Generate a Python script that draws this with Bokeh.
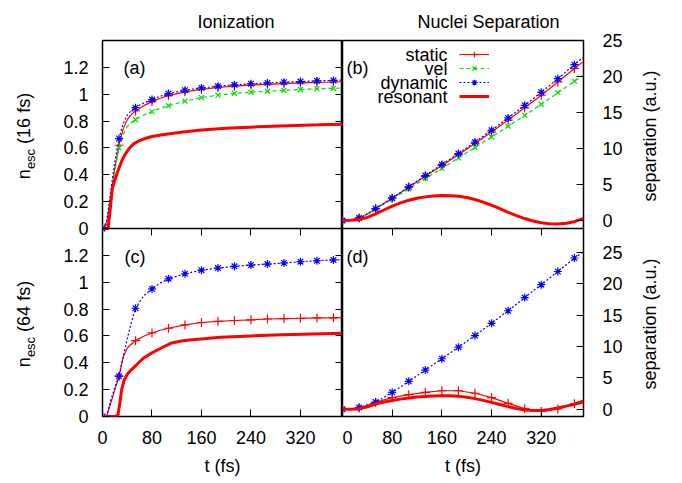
import numpy as np
from bokeh.plotting import figure
from bokeh.models import (ColumnDataSource, FixedTicker, Label, Legend, LegendItem,
                          LinearAxis, Range1d, CustomJSTickFormatter, Div, Title, Span)
from bokeh.layouts import row
from bokeh.embed import file_html
from bokeh.resources import INLINE

FONT = "Liberation Sans"
FS = "18px"

# ---------------- data ----------------
T = [0, 6.67, 13.33, 20, 26.67, 33.33, 40, 46.67, 53.33, 66.67, 80, 93.33, 106.67,
     133.33, 160, 186.67, 213.33, 240, 266.67, 293.33, 320, 346.67, 373.33, 388]
MARK_STEP = 80 / 3

a_static = [0, 0.03, 0.24, 0.45, 0.62, 0.74, 0.81, 0.85, 0.875, 0.915, 0.945, 0.97, 0.99,
            1.018, 1.036, 1.05, 1.06, 1.068, 1.074, 1.079, 1.084, 1.088, 1.091, 1.093]
a_vel = [0, 0.02, 0.22, 0.43, 0.60, 0.70, 0.76, 0.79, 0.81, 0.845, 0.87, 0.895, 0.914,
         0.948, 0.975, 0.993, 1.006, 1.015, 1.022, 1.029, 1.035, 1.04, 1.044, 1.046]
a_dynamic = [0, 0.05, 0.28, 0.50, 0.67, 0.78, 0.845, 0.88, 0.90, 0.935, 0.96, 0.985, 1.005,
             1.03, 1.047, 1.06, 1.07, 1.078, 1.084, 1.089, 1.094, 1.099, 1.103, 1.105]
TR_a = [0, 9, 12, 16, 20, 25, 30, 35, 42, 50, 60, 70, 80, 100, 130, 160, 200, 250, 300, 350, 388]
a_res = [0, 0, 0.12, 0.30, 0.36, 0.43, 0.49, 0.54, 0.59, 0.63, 0.655, 0.672, 0.685, 0.70,
         0.718, 0.733, 0.746, 0.757, 0.766, 0.772, 0.777]

c_static = [0, 0.0, 0.1, 0.2, 0.30, 0.44, 0.51, 0.54, 0.565, 0.598, 0.622, 0.642, 0.657,
            0.682, 0.70, 0.709, 0.715, 0.72, 0.726, 0.729, 0.731, 0.734, 0.735, 0.736]
c_dynamic = [0, 0.0, 0.12, 0.22, 0.30, 0.44, 0.58, 0.70, 0.806, 0.90, 0.95, 0.995, 1.025,
             1.063, 1.09, 1.105, 1.118, 1.128, 1.135, 1.143, 1.153, 1.16, 1.166, 1.168]
TR_c = [0, 20, 25, 28, 31, 35, 40, 46, 55, 65, 80, 95, 110, 125, 140, 160, 190, 240, 290, 340, 388]
c_res = [0, 0, 0.01, 0.1, 0.2, 0.27, 0.315, 0.345, 0.385, 0.43, 0.475, 0.51, 0.545, 0.56,
         0.57, 0.578, 0.59, 0.6, 0.608, 0.615, 0.62]

b_static = [0, 0.02, 0.08, 0.2, 0.36, 0.6, 0.92, 1.27, 1.63, 2.36, 3.1, 3.85, 4.62,
            6.15, 7.65, 9.15, 10.7, 12.3, 13.95, 15.65, 17.4, 19.25, 21.1, 22.1]
b_vel = [0, 0.02, 0.08, 0.2, 0.36, 0.6, 0.9, 1.25, 1.6, 2.3, 3.0, 3.7, 4.4,
         5.85, 7.25, 8.7, 10.15, 11.6, 13.1, 14.6, 16.15, 17.75, 19.35, 20.2]
b_dynamic = [0, 0.02, 0.08, 0.2, 0.37, 0.62, 0.95, 1.3, 1.67, 2.4, 3.15, 3.9, 4.68,
             6.25, 7.8, 9.3, 10.9, 12.55, 14.25, 16.0, 17.8, 19.7, 21.65, 22.7]
TR13 = [0, 13.33, 26.67, 40, 53.33, 66.67, 80, 93.33, 106.67, 120, 133.33, 146.67, 160,
        173.33, 186.67, 200, 213.33, 226.67, 240, 253.33, 266.67, 280, 293.33, 306.67,
        320, 333.33, 346.67, 360, 373.33, 388]
b_res = [0, 0.03, 0.14, 0.45, 0.93, 1.47, 2.0, 2.45, 2.82, 3.1, 3.29, 3.42, 3.47, 3.46,
         3.38, 3.2, 2.92, 2.56, 2.13, 1.65, 1.15, 0.68, 0.28, -0.05, -0.3, -0.43, -0.46,
         -0.38, -0.15, 0.3]

d_static = [0, 0.0, 0.03, 0.1, 0.2, 0.4, 0.62, 0.85, 1.1, 1.5, 1.85, 2.1, 2.33,
            2.7, 2.95, 2.95, 2.55, 1.85, 0.95, 0.1, -0.35, 0.05, 0.9, 1.45]
d_dynamic = [0, 0.01, 0.05, 0.15, 0.3, 0.5, 0.72, 0.92, 1.15, 1.9, 2.7, 3.55, 4.45,
             6.25, 8.05, 9.9, 11.75, 13.7, 15.7, 17.8, 19.85, 21.95, 24.1, 25.1]
d_res = [0, 0.02, 0.1, 0.4, 0.84, 1.15, 1.4, 1.62, 1.8, 1.95, 2.05, 2.12, 2.15, 2.14,
         2.07, 1.92, 1.7, 1.42, 1.1, 0.76, 0.42, 0.12, -0.1, -0.2, -0.2, -0.05, 0.2,
         0.5, 0.8, 1.2]

x_ticks = [0, 80, 160, 240, 320]
n_ticks = [0, 0.2, 0.4, 0.6, 0.8, 1.0, 1.2]
s_ticks = [0, 5, 10, 15, 20, 25]
legend_names = ["static", "vel", "dynamic", "resonant"]

# axis ranges of the four panels
XR = (0, 388)
RANGE_A, RANGE_C = (0.0, 1.4), (0.0, 1.4)
RANGE_B, RANGE_D = (-1.1, 25.0), (-1.15, 28.8)

RED, GREEN, BLUE = "#ff0000", "#00dd00", "#0000ff"

FW_L, FW_R, FH = 240, 241, 188
DIV_L, DIV_R = 40, 40
BL, BR, BT, BB = 102 - DIV_L, 50, 40, 62


def stacked_fig(top_rng, bot_rng, fw, left, right, yloc):
    """One frame holding an upper panel (extra range 'top') above a lower panel."""
    t_lo, t_hi = top_rng
    b_lo, b_hi = bot_rng
    p = figure(frame_width=fw, frame_height=2 * FH, x_range=Range1d(*XR),
               y_range=Range1d(b_lo, b_hi + (b_hi - b_lo)),
               output_backend="svg", toolbar_location=None,
               y_axis_location=yloc, x_axis_location="below",
               min_border_left=left, min_border_right=right,
               min_border_top=BT, min_border_bottom=BB)
    p.extra_y_ranges = {"top": Range1d(t_lo - (t_hi - t_lo), t_hi)}
    p.xgrid.visible = False
    p.ygrid.visible = False
    p.outline_line_color = "black"
    p.outline_line_width = 1.5
    p.background_fill_color = "white"
    p.border_fill_color = "white"
    p.add_layout(Span(location=b_hi, dimension="width", line_color="black", line_width=1.5))
    return p


def combined_ticks(top_rng, bot_rng, ticks):
    t_lo, t_hi = top_rng
    b_lo, b_hi = bot_rng
    k = (b_hi - b_lo) / (t_hi - t_lo)
    return list(ticks) + [b_hi + (v - t_lo) * k for v in ticks]


def combined_formatter(top_rng, bot_rng, digits):
    t_lo, t_hi = top_rng
    b_lo, b_hi = bot_rng
    return CustomJSTickFormatter(
        args=dict(b_hi=b_hi, t_lo=t_lo, k=(t_hi - t_lo) / (b_hi - b_lo), f=10 ** digits),
        code="""
        let v = tick;
        if (tick >= b_hi - 1e-6) { v = t_lo + (tick - b_hi) * k; }
        v = Math.round(v * f) / f;
        if (Math.abs(v) < 1e-9) { v = 0; }
        return String(v);
        """)


def style_axis(ax, ticks, standoff, fmt=None):
    ax.ticker = FixedTicker(ticks=ticks)
    ax.major_tick_in = 7
    ax.major_tick_out = 0
    ax.minor_tick_line_color = None
    ax.axis_line_color = None
    ax.major_tick_line_color = "black"
    ax.major_label_standoff = standoff
    ax.major_label_text_font = FONT
    ax.major_label_text_font_size = FS
    ax.major_label_text_color = "black"
    if fmt is not None:
        ax.formatter = fmt


def mirror(p, ticks, side, fixed=None):
    ax = LinearAxis(ticker=FixedTicker(ticks=ticks),
                    formatter=CustomJSTickFormatter(code="return ''"),
                    major_tick_in=7, major_tick_out=0, minor_tick_line_color=None,
                    axis_line_color=None, major_label_standoff=0,
                    major_label_text_font_size="0px")
    if fixed is not None:
        ax.fixed_location = fixed
    p.add_layout(ax, side)


def marker_mask(tt):
    tt = np.asarray(tt, dtype=float)
    q = tt / MARK_STEP
    return np.abs(q - np.round(q)) < 0.01


def series(p, tt, yy, color, dash, width, marker=None, msize=8, rng="default"):
    rs = [p.line(x=list(tt), y=list(yy), line_color=color, line_dash=dash,
                 line_width=width, y_range_name=rng)]
    if marker:
        m = marker_mask(tt)
        src = ColumnDataSource(dict(t=np.asarray(tt)[m], y=np.asarray(yy)[m]))
        rs.append(p.scatter("t", "y", source=src, marker=marker, size=msize,
                            line_color=color, line_width=1.2, fill_color=None,
                            y_range_name=rng))
    return rs


def lab(p, text, x, y, size=FS, align="left", baseline="middle"):
    p.add_layout(Label(x=x, y=y, x_units="screen", y_units="screen", text=text,
                       text_font=FONT, text_font_size=size, text_align=align,
                       text_baseline=baseline, text_color="black"))


def add_title(p, text, offset):
    p.add_layout(Title(text=text, align="left", offset=offset, standoff=17,
                       text_font=FONT, text_font_size=FS, text_font_style="normal",
                       text_color="black"), "above")


def xlabel(ax):
    ax.axis_label = "t (fs)"
    ax.axis_label_standoff = 9
    ax.axis_label_text_font = FONT
    ax.axis_label_text_font_size = FS
    ax.axis_label_text_font_style = "normal"
    ax.axis_label_text_color = "black"


def rot_span(html, cx, cy):
    return ("<span style=\"position:absolute; left:%dpx; top:%dpx; white-space:nowrap; "
            "transform:translate(-50%%,-50%%) rotate(-90deg); font-family:'Liberation Sans'; "
            "font-size:18px; color:black; line-height:1;\">%s</span>") % (cx, cy, html)


def side_div(spans, w, h):
    return Div(text="<div style=\"position:relative; width:%dpx; height:%dpx;\">%s</div>"
               % (w, h, "".join(spans)),
               width=w, height=h, margin=0, styles={"overflow": "visible"})


# ---------------- left column: (a) over (c) ----------------
pL = stacked_fig(RANGE_A, RANGE_C, FW_L, BL, 0, "left")
lt = combined_ticks(RANGE_A, RANGE_C, n_ticks)
style_axis(pL.yaxis[0], lt, 14, combined_formatter(RANGE_A, RANGE_C, 1))
style_axis(pL.xaxis[0], x_ticks, 14)
xlabel(pL.xaxis[0])
mirror(pL, lt, "right")
mirror(pL, x_ticks, "above", fixed=RANGE_C[1])
series(pL, T, a_static, RED, "solid", 1.2, "cross", 9, rng="top")
series(pL, T, a_vel, GREEN, "4 3", 1.2, "x", 7, rng="top")
series(pL, T, a_dynamic, BLUE, "2 2", 1.2, "asterisk", 8, rng="top")
series(pL, TR_a, a_res, RED, "solid", 3, rng="top")
series(pL, T, c_static, RED, "solid", 1.2, "cross", 9)
series(pL, T, c_dynamic, BLUE, "2 2", 1.2, "asterisk", 8)
series(pL, TR_c, c_res, RED, "solid", 3)
lab(pL, "(a)", 21, FH + 161)
lab(pL, "(c)", 22, 160)
add_title(pL, "Ionization", 95)

# ---------------- right column: (b) over (d) ----------------
pR = stacked_fig(RANGE_B, RANGE_D, FW_R, 0, BR, "right")
rt = combined_ticks(RANGE_B, RANGE_D, s_ticks)
style_axis(pR.yaxis[0], rt, 19, combined_formatter(RANGE_B, RANGE_D, 0))
style_axis(pR.xaxis[0], x_ticks, 14)
xlabel(pR.xaxis[0])
mirror(pR, x_ticks, "above", fixed=RANGE_D[1])
rb_s = series(pR, T, b_static, RED, "solid", 1.2, "cross", 9, rng="top")
rb_v = series(pR, T, b_vel, GREEN, "4 3", 1.2, "x", 7, rng="top")
rb_d = series(pR, T, b_dynamic, BLUE, "2 2", 1.2, "asterisk", 8, rng="top")
rb_r = series(pR, TR13, b_res, RED, "solid", 3, rng="top")
series(pR, T, d_static, RED, "solid", 1.2, "cross", 9)
series(pR, T, d_dynamic, BLUE, "2 2", 1.2, "asterisk", 8)
series(pR, TR13, d_res, RED, "solid", 3)
lab(pR, "(b)", 4, FH + 161)
lab(pR, "(d)", 4, 160)
add_title(pR, "Nuclei Separation", 75)
leg = Legend(items=[LegendItem(label="", renderers=r) for r in (rb_s, rb_v, rb_d, rb_r)],
             location=(117, FH + 125), glyph_width=30, glyph_height=14, label_height=0,
             label_width=0, label_standoff=0, label_text_font_size="1px",
             spacing=0, padding=0, margin=0,
             background_fill_alpha=0, border_line_color=None)
pR.add_layout(leg)
for i, name in enumerate(legend_names):
    lab(pR, name, 105, FH + 174 - i * 14, align="right")

# ---------------- side labels ----------------
H = BT + 2 * FH + BB
nlab = "n<sub style=\"font-size:13px;\">esc</sub> (%s fs)"
div_L = side_div([rot_span(nlab % "16", 26, 136), rot_span(nlab % "64", 26, 324)], DIV_L, H)
div_R = side_div([rot_span("separation (a.u.)", 17, 136),
                  rot_span("separation (a.u.)", 17, 324)], DIV_R, H)

layout = row(div_L, pL, pR, div_R)
open("out.html", "w").write(file_html(layout, INLINE))
